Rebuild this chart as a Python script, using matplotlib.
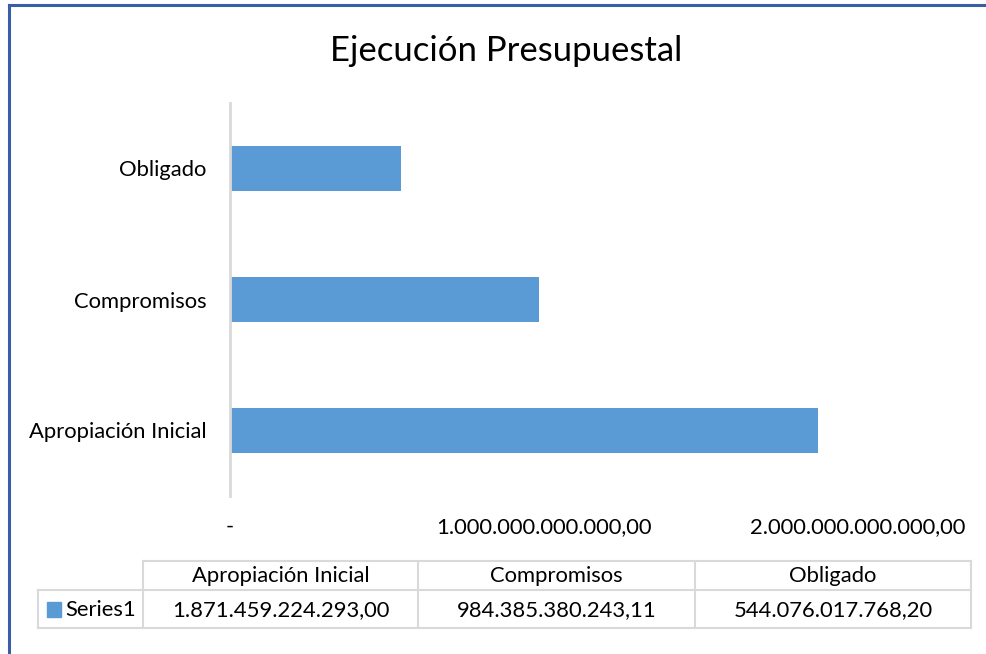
import matplotlib
matplotlib.use("Agg")
import matplotlib.pyplot as plt
from matplotlib.patches import Rectangle
from matplotlib.lines import Line2D

plt.rcParams['font.family'] = ['Lato', 'DejaVu Sans']

title = "Ejecución Presupuestal"
categories = ["Apropiación Inicial", "Compromisos", "Obligado"]
values = [1871459224293.00, 984385380243.11, 544076017768.20]
series_name = "Series1"
xticks = [0, 1e12, 2e12]
bar_color = "#5B9BD5"

def fmt_es(v):
    s = f"{v:,.2f}"
    return s.replace(",", "X").replace(".", ",").replace("X", ".")

W, H = 987, 654
FS = 15.8
fig = plt.figure(figsize=(W / 100, H / 100), dpi=100)
fig.patch.set_facecolor("white")

# main bar axes
ax = fig.add_axes([230 / W, 1 - 496 / H, (858 - 230) / W, (496 - 103) / H])
y = list(range(len(categories)))
ax.barh(y, values, height=0.35, color=bar_color, zorder=2)
ax.set_xlim(0, 2e12)
ax.set_ylim(-0.5, len(categories) - 0.5)
ax.set_yticks(y)
ax.set_yticklabels(categories, fontsize=FS)
ax.set_xticks(xticks)
ax.set_xticklabels(["-" if t == 0 else fmt_es(t) for t in xticks], fontsize=FS)
for s in ["top", "right", "bottom"]:
    ax.spines[s].set_visible(False)
ax.spines["left"].set_color("#D9D9D9")
ax.spines["left"].set_linewidth(2)
ax.tick_params(axis="both", length=0)
ax.tick_params(axis="y", pad=17)
ax.tick_params(axis="x", pad=15)
ax.set_facecolor("none")

# overlay axes in pixel coordinates for title, border and data table
ov = fig.add_axes([0, 0, 1, 1], zorder=-1)
ov.set_xlim(0, W)
ov.set_ylim(H, 0)
ov.axis("off")

ov.text(506, 51, title, fontsize=25, ha="center", va="center", color="#000000")

# chart border (left and top visible)
border = "#3A5DA8"
ov.add_line(Line2D([9, 9], [5, H], color=border, lw=2.2))
ov.add_line(Line2D([9, W], [5, 5], color=border, lw=2.2))

# data table
grid = "#D9D9D9"
col_edges = [143, 418, 695, 971]
header_top, header_bot, row_bot = 561, 590, 628
leg_left = 38
lw = 1.5
ov.add_line(Line2D([col_edges[0], col_edges[-1]], [header_top] * 2, color=grid, lw=lw))
ov.add_line(Line2D([leg_left, col_edges[-1]], [header_bot] * 2, color=grid, lw=lw))
ov.add_line(Line2D([leg_left, col_edges[-1]], [row_bot] * 2, color=grid, lw=lw))
ov.add_line(Line2D([leg_left, leg_left], [header_bot, row_bot], color=grid, lw=lw))
for xe in col_edges:
    ov.add_line(Line2D([xe, xe], [header_top, row_bot], color=grid, lw=lw))

for i, cat in enumerate(categories):
    xc = (col_edges[i] + col_edges[i + 1]) / 2
    ov.text(xc, (header_top + header_bot) / 2 + 1, cat, fontsize=FS, ha="center", va="center")
    ov.text(xc, (header_bot + row_bot) / 2 + 1, fmt_es(values[i]), fontsize=FS, ha="center", va="center")

ov.add_patch(Rectangle((47, 602), 14, 15, color=bar_color))
ov.text(65, (header_bot + row_bot) / 2 + 1, series_name, fontsize=FS, ha="left", va="center")

fig.savefig("out.png", dpi=100)
